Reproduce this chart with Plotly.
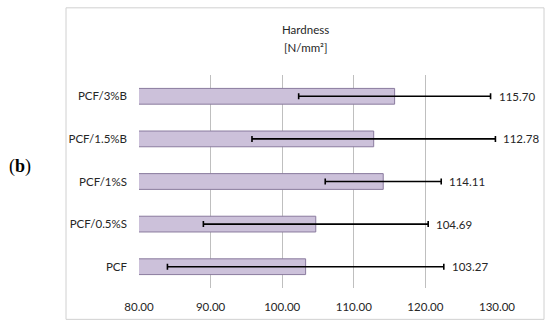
import plotly.graph_objects as go

categories = ["PCF", "PCF/0.5%S", "PCF/1%S", "PCF/1.5%B", "PCF/3%B"]
hardness = [103.27, 104.69, 114.11, 112.78, 115.70]
errors = [19.3, 15.7, 8.1, 17.0, 13.4]
x_ticks = [80, 90, 100, 110, 120, 130]

W, H = 550, 328
L, R = 139, 497
T, B = 74.5, 288.5

def px_x(p):
    return (p - L) / (R - L)

def px_y(p):
    return (B - p) / (B - T)

FONT = "Lato"
FS = 11.5
TXT = "#262626"

fig = go.Figure()
fig.add_trace(go.Bar(
    x=hardness, y=categories, orientation="h",
    width=0.37,
    marker=dict(color="#ccc1da", line=dict(color="#8a7b9e", width=1)),
    error_x=dict(type="data", array=errors, visible=True,
                 color="#000000", thickness=1.6, width=3),
    hoverinfo="x+y",
))

annotations = []
for c, v, e in zip(categories, hardness, errors):
    annotations.append(dict(
        x=v + e, y=c, xref="x", yref="y", text=f"{v:.2f}",
        showarrow=False, xanchor="left", yanchor="middle", xshift=6,
        font=dict(family=FONT, size=FS, color=TXT),
    ))

annotations += [
    dict(x=px_x(305.5), y=px_y(29), xref="paper", yref="paper", text="Hardness",
         showarrow=False, xanchor="center", yanchor="middle",
         font=dict(family=FONT, size=FS, color=TXT)),
    dict(x=px_x(305.5), y=px_y(47), xref="paper", yref="paper", text="[N/mm²]",
         showarrow=False, xanchor="center", yanchor="middle",
         font=dict(family=FONT, size=FS, color=TXT)),
    dict(x=px_x(20), y=px_y(166), xref="paper", yref="paper", text="(<b>b</b>)",
         showarrow=False, xanchor="center", yanchor="middle",
         font=dict(family="Liberation Serif", size=18, color="#000000")),
]

fig.update_layout(
    width=W, height=H,
    margin=dict(l=L, r=W - R, t=T, b=H - B, pad=0),
    paper_bgcolor="white", plot_bgcolor="white",
    showlegend=False,
    annotations=annotations,
    shapes=[dict(type="rect", xref="paper", yref="paper",
                 x0=px_x(66), x1=px_x(544), y0=px_y(320), y1=px_y(7),
                 line=dict(color="#d0d0d0", width=1), fillcolor="rgba(0,0,0,0)",
                 layer="below")],
    xaxis=dict(range=[80, 130], tickvals=x_ticks,
               ticktext=[f"{t:.2f}" for t in x_ticks],
               showgrid=True, gridcolor="#bfbfbf", gridwidth=1,
               zeroline=False, showline=False, ticks="", automargin=False,
               ticklabelstandoff=10,
               tickfont=dict(family=FONT, size=FS, color=TXT)),
    yaxis=dict(showgrid=False, zeroline=False, showline=False, ticks="",
               automargin=False, ticklabelstandoff=11,
               tickfont=dict(family=FONT, size=FS, color=TXT)),
)

fig.write_html("out.html", config={"displayModeBar": False},
               post_script="document.body.style.margin='0';")
